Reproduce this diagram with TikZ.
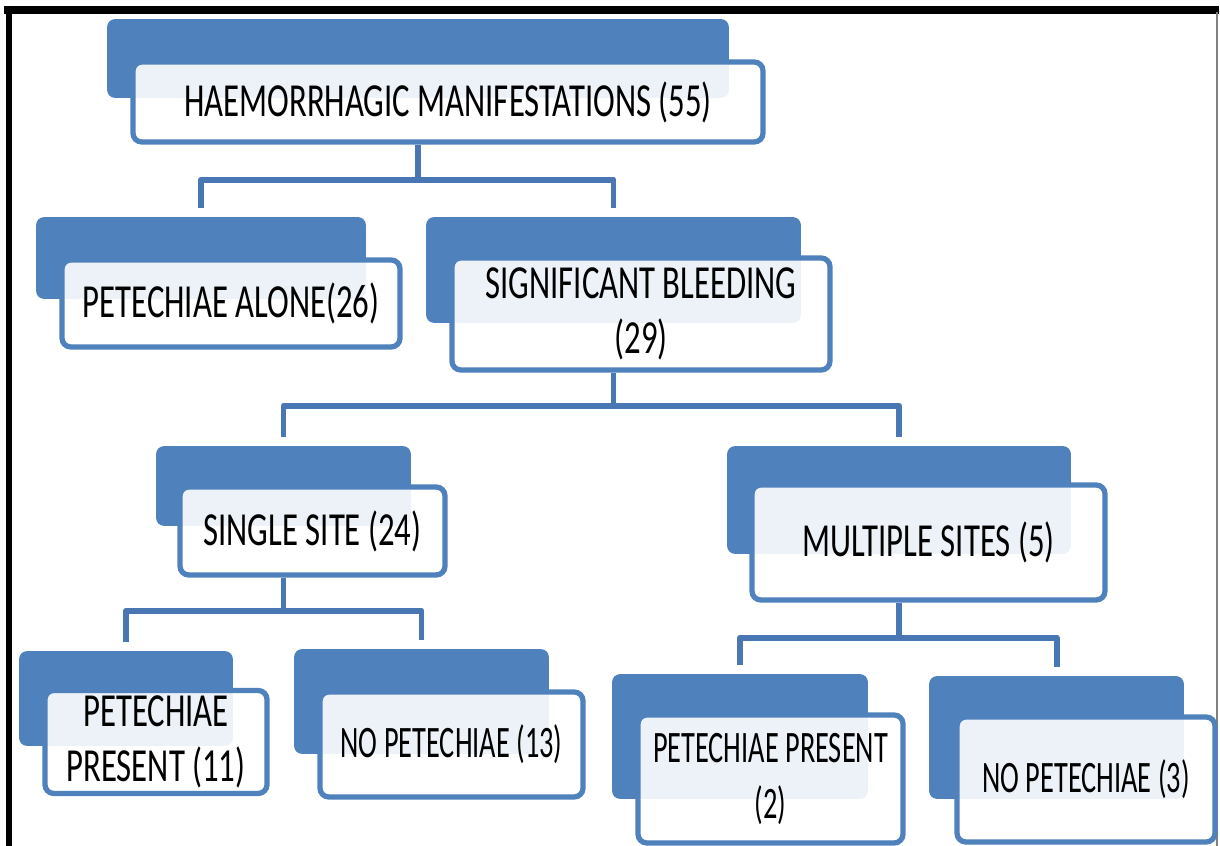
\documentclass[tikz,border=0pt]{standalone}
\usepackage{fontspec}
\setmainfont{Carlito}[FakeStretch=0.69]
\newfontfamily\narrowfont{Carlito}[FakeStretch=0.63]
\definecolor{boxblue}{HTML}{4F81BD}
\definecolor{linkblue}{HTML}{4877B4}

\begin{document}
\begin{tikzpicture}[x=0.1mm, y=-0.1mm,
  backbox/.style={fill=boxblue, draw=boxblue, line width=0.5pt, rounded corners=2pt, inner sep=0pt},
  frontbox/.style={draw=boxblue, fill=white, fill opacity=0.9, text opacity=1, line width=1.5pt,
    rounded corners=2.5pt, align=center, inner sep=1pt, font=\fontsize{13.5}{15.6}\selectfont},
  narrowbox/.style={frontbox, font=\narrowfont\fontsize{12.8}{15.8}\selectfont},
  link/.style={draw=linkblue, line width=1.7pt, line join=round, shorten <=0.9mm, shorten >=0.9mm}]

\useasboundingbox (0,0) rectangle (1220,846);

% frame
\draw[line width=2pt] (4,10) -- (1219,10);
\draw[line width=1.5pt] (9,8) -- (9,846);
\draw[gray, line width=0.6pt] (1217,12) -- (1217,846);

% level 0
\node[backbox, minimum width=62mm, minimum height=7.7mm] (hm-b) at (418,58.5) {};
\node[frontbox, minimum width=63mm, minimum height=8mm] (hm) at (448,102) {HAEMORRHAGIC MANIFESTATIONS (55)};

% level 1
\node[backbox, minimum width=32.8mm, minimum height=8mm] (pa-b) at (201,258) {};
\node[frontbox, minimum width=33.8mm, minimum height=8.7mm] (pa) at (231,303.5) {PETECHIAE ALONE(26)};

\node[backbox, minimum width=37.3mm, minimum height=10.4mm] (sb-b) at (613.5,270) {};
\node[frontbox, minimum width=37.8mm, minimum height=11.2mm] (sb) at (641,314) {SIGNIFICANT BLEEDING\\(29)};

% level 2
\node[backbox, minimum width=25.3mm, minimum height=7.8mm] (ss-b) at (283.5,486) {};
\node[frontbox, minimum width=26.5mm, minimum height=8.8mm] (ss) at (312.5,531) {SINGLE SITE (24)};

\node[backbox, minimum width=34.2mm, minimum height=10.6mm] (ms-b) at (899,500) {};
\node[frontbox, minimum width=35.3mm, minimum height=11.5mm] (ms) at (928.5,542.5) {MULTIPLE SITES (5)};

% level 3
\node[backbox, minimum width=21.2mm, minimum height=9.3mm] (sp-b) at (126,698.5) {};
\node[frontbox, minimum width=22.2mm, minimum height=10.3mm] (sp) at (156,742) {PETECHIAE\\PRESENT (11)};

\node[backbox, minimum width=25.3mm, minimum height=10.3mm] (sn-b) at (421.5,701.5) {};
\node[narrowbox, minimum width=26.3mm, minimum height=10.5mm] (sn) at (451.5,744.5) {NO PETECHIAE (13)};

\node[backbox, minimum width=25.4mm, minimum height=12.3mm] (mp-b) at (740,736.5) {};
\node[narrowbox, minimum width=26.5mm, minimum height=12.8mm] (mp) at (770.5,779) {PETECHIAE PRESENT\\(2)};

\node[backbox, minimum width=25.3mm, minimum height=12.1mm] (mn-b) at (1056.5,737.5) {};
\node[narrowbox, minimum width=25.8mm, minimum height=12.5mm] (mn) at (1086,779.5) {NO PETECHIAE (3)};

% connectors
\draw[link, shorten <=0pt, shorten >=0pt] (hm-b |- hm.south) -- ++(0,35) coordinate (j0);
\draw[link] (pa-b.north) |- (j0) -| (sb-b.north);

\draw[link, shorten <=0pt, shorten >=0pt] (sb-b |- sb.south) -- ++(0,33) coordinate (j1);
\draw[link] (ss-b.north) |- (j1) -| (ms-b.north);

\draw[link, shorten <=0pt, shorten >=0pt] (ss-b |- ss.south) -- ++(0,33) coordinate (j2);
\draw[link] (sp-b.north) |- (j2) -| (sn-b.north);

\draw[link, shorten <=0pt, shorten >=0pt] (ms-b |- ms.south) -- ++(0,35) coordinate (j3);
\draw[link] (mp-b.north) |- (j3) -| (mn-b.north);
\end{tikzpicture}
\end{document}
